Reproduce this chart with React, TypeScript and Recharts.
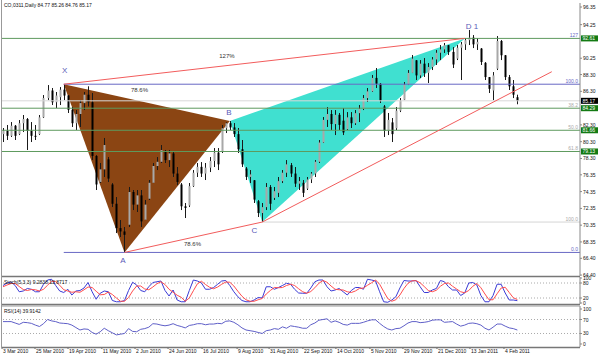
import React from "react";
import {
  Bar,
  ComposedChart,
  Line,
  LineChart,
  ReferenceArea,
  ReferenceDot,
  ReferenceLine,
  XAxis,
  YAxis,
} from "recharts";

const FONT = "'Liberation Sans', Arial, sans-serif";

// Daily OHLC (each entry ~2 sessions), CO 03/11 Brent, Mar 2010 - Feb 2011
const opens = [
  81.2, 81.6, 81.0, 82.2, 81.2, 82.5, 83.0, 81.6, 81.0, 81.2,
  83.2, 85.5, 86.4, 85.0, 85.6, 86.5, 85.8, 84.1, 82.5, 83.6,
  84.9, 85.9, 85.0, 78.6, 75.5, 77.0, 78.2, 75.2, 72.9, 70.0,
  69.6, 70.4, 74.3, 72.8, 73.9, 71.0, 73.5, 75.4, 77.4, 77.9,
  79.2, 78.1, 78.9, 76.5, 75.2, 72.6, 72.7, 75.0, 76.6, 77.3,
  76.5, 77.2, 78.0, 79.0, 79.1, 81.9, 82.5, 82.0, 81.2, 79.4,
  77.1, 76.1, 75.7, 73.2, 71.8, 72.5, 74.9, 73.6, 74.2, 75.6,
  76.6, 77.5, 76.5, 75.3, 75.4, 74.7, 75.8, 76.5, 77.9, 80.2,
  82.9, 83.6, 82.4, 83.5, 82.8, 81.8, 83.2, 82.5, 83.7, 84.2,
  85.5, 86.3, 87.9, 87.2, 84.5, 81.6, 82.6, 81.9, 84.0, 85.3,
  87.1, 88.5, 90.0, 88.2, 89.6, 88.5, 89.2, 90.1, 90.9, 91.3,
  91.8, 91.0, 90.2, 91.5, 91.9, 92.4, 92.7, 91.9, 91.4, 89.7,
  88.0, 86.4, 89.0, 92.3, 90.6, 88.0, 86.9, 85.6,
];
const highs = [
  81.93, 82.29, 82.64, 82.29, 82.88, 83.48, 83.12, 82.64, 82.29, 83.48,
  85.86, 87.05, 86.7, 86.22, 86.81, 87.15, 85.86, 84.43, 84.07, 85.26,
  86.22, 86.9, 86.1, 78.71, 77.76, 80.74, 78.47, 75.37, 73.7, 70.96,
  70.13, 74.9, 74.54, 74.54, 74.54, 73.35, 75.73, 77.76, 78.47, 79.9,
  79.31, 79.31, 79.07, 77.28, 75.37, 72.99, 75.37, 76.92, 77.76, 77.87,
  77.76, 78.47, 79.54, 79.54, 82.29, 82.6, 82.76, 82.52, 81.93, 80.5,
  77.28, 76.92, 75.73, 73.35, 72.99, 75.37, 75.13, 74.9, 76.09, 76.92,
  78.11, 77.76, 77.28, 76.09, 75.73, 76.09, 76.68, 78.11, 80.5, 83.24,
  84.43, 84.07, 84.07, 83.72, 84.31, 83.83, 83.83, 84.07, 84.67, 85.86,
  86.7, 88.25, 89.08, 87.29, 84.67, 83.72, 83.12, 84.43, 85.5, 87.41,
  88.84, 90.63, 90.03, 90.03, 90.27, 89.67, 90.39, 91.23, 91.82, 92.06,
  91.82, 91.58, 91.82, 92.18, 92.65, 93.61, 93.01, 92.65, 91.46, 89.79,
  88.01, 88.6, 92.89, 92.42, 90.63, 88.25, 87.65, 85.9,
];
const lows = [
  80.26, 80.5, 80.86, 80.5, 81.09, 81.45, 79.31, 80.26, 80.5, 81.09,
  83.12, 85.26, 84.67, 84.31, 84.67, 85.26, 83.72, 82.05, 81.69, 82.05,
  84.07, 84.5, 78.11, 74.54, 75.37, 76.09, 75.49, 72.51, 69.41, 68.94,
  67.1, 70.13, 72.15, 71.92, 70.13, 70.96, 73.35, 75.37, 76.92, 77.76,
  77.76, 77.28, 76.09, 75.13, 72.15, 71.2, 72.51, 74.9, 76.09, 76.09,
  75.73, 76.68, 77.28, 76.92, 78.95, 81.33, 81.69, 80.86, 78.95, 77.28,
  75.73, 75.37, 72.99, 71.32, 70.72, 72.15, 72.15, 73.35, 73.7, 75.37,
  76.09, 76.09, 74.9, 74.54, 73.7, 74.54, 75.37, 76.09, 77.76, 80.14,
  82.05, 81.69, 81.09, 81.69, 81.09, 81.69, 81.93, 82.29, 82.64, 84.07,
  85.03, 86.22, 86.7, 84.91, 80.86, 81.09, 80.26, 81.69, 83.83, 85.26,
  87.05, 88.48, 87.65, 87.89, 88.01, 87.29, 88.84, 89.44, 90.03, 90.87,
  90.63, 89.08, 90.03, 87.65, 91.23, 91.82, 91.46, 91.23, 89.44, 87.65,
  86.1, 85.26, 88.84, 90.03, 87.65, 86.46, 85.5, 84.76,
];
const closes = [
  81.6, 81.0, 82.2, 81.0, 82.5, 83.0, 81.6, 81.0, 80.9, 83.2,
  85.5, 86.4, 85.0, 85.8, 86.5, 85.8, 84.1, 82.5, 83.6, 84.9,
  85.9, 85.0, 78.6, 75.2, 77.0, 79.9, 75.9, 72.9, 70.0, 69.6,
  69.2, 74.3, 72.8, 73.9, 70.8, 72.8, 75.4, 77.4, 77.9, 79.3,
  78.1, 78.9, 76.5, 75.5, 72.6, 72.4, 75.0, 76.6, 77.3, 76.5,
  77.2, 78.0, 79.0, 77.6, 81.9, 82.5, 82.0, 81.2, 79.4, 77.6,
  76.1, 76.4, 73.4, 71.8, 72.5, 74.9, 72.9, 74.4, 75.6, 76.6,
  77.6, 76.5, 75.3, 75.6, 74.2, 75.8, 76.5, 77.9, 80.2, 82.9,
  83.6, 82.4, 83.5, 82.3, 81.4, 83.2, 82.5, 83.7, 84.2, 85.5,
  86.3, 87.9, 87.2, 85.2, 81.6, 82.9, 81.2, 84.0, 85.2, 87.1,
  88.5, 90.2, 88.2, 89.6, 88.5, 89.2, 90.1, 90.9, 91.3, 91.8,
  91.0, 89.5, 91.5, 91.9, 92.4, 92.7, 91.9, 92.2, 89.8, 88.0,
  86.6, 88.2, 92.3, 90.6, 88.0, 86.9, 85.9, 85.17,
];

// Stochastic(5,3,3): main and signal
const stochMain = [
  70, 80, 84, 70, 45, 48, 58, 55, 45, 45, 75, 92, 95, 70, 48, 42, 55, 32, 48, 50,
  60, 82, 45, 15, 39, 48, 45, 10, 5, 5, 10, 50, 83, 72, 50, 45, 65, 82, 85, 88,
  50, 28, 52, 12, 5, 5, 50, 92, 88, 80, 55, 55, 62, 75, 88, 90, 70, 45, 25, 10,
  5, 5, 12, 22, 20, 65, 65, 55, 62, 70, 79, 75, 55, 40, 39, 39, 60, 85, 92, 92,
  65, 48, 52, 58, 45, 32, 50, 62, 62, 55, 95, 92, 88, 45, 5, 3, 12, 25, 60, 90,
  88, 88, 90, 65, 42, 42, 52, 58, 90, 85, 65, 52, 52, 30, 40, 80, 82, 72, 30, 5,
  5, 30, 75, 75, 40, 12, 12, 9.28,
];
const stochSignal = [
  65, 72, 78, 78, 66, 54, 50, 54, 53, 48, 55, 71, 87, 86, 71, 53, 48, 43, 45, 43,
  53, 64, 62, 47, 33, 34, 44, 34, 20, 7, 7, 22, 48, 68, 68, 56, 53, 64, 77, 85,
  74, 55, 43, 31, 23, 7, 20, 49, 77, 87, 74, 63, 57, 64, 75, 84, 83, 68, 47, 27,
  13, 7, 7, 13, 18, 36, 50, 62, 61, 62, 70, 75, 70, 57, 45, 39, 46, 61, 79, 90,
  83, 68, 55, 53, 52, 45, 42, 48, 58, 60, 71, 81, 92, 75, 46, 18, 7, 13, 32, 58,
  79, 89, 89, 81, 66, 50, 45, 51, 67, 78, 80, 67, 56, 45, 41, 50, 67, 78, 61, 36,
  13, 13, 37, 60, 63, 42, 21, 13.87,
];
// RSI(14)
const rsi14 = [
  64, 64, 64, 60, 56, 62, 61, 59, 54, 50, 58, 70, 66, 64, 60, 59, 58, 54, 47, 40,
  43, 42, 33, 28, 35, 45, 38, 32, 26, 28, 30, 44, 36, 35, 42, 44, 48, 58, 57, 54,
  52, 54, 58, 53, 50, 46, 53, 55, 58, 58, 55, 57, 57, 59, 58, 65, 66, 62, 55, 46,
  40, 38, 36, 33, 30, 38, 40, 44, 42, 49, 45, 52, 50, 48, 45, 45, 55, 60, 68, 70,
  72, 62, 66, 62, 56, 54, 59, 59, 59, 62, 66, 69, 69, 59, 50, 43, 40, 44, 45, 52,
  60, 64, 64, 61, 62, 64, 68, 69, 69, 62, 63, 64, 57, 51, 54, 59, 60, 58, 54, 45,
  40, 48, 57, 57, 51, 46, 44, 39.91,
];

const priceTicks = [96.35, 94.25, 90.25, 88.3, 86.3, 82.3, 80.3, 78.3, 76.35, 74.35, 72.35, 70.35, 68.35, 66.4, 64.4];
const stochTicks = [0, 20, 80, 100];
const rsiTicks = [0, 30, 70, 100];
const dateTicks = [-0.25, 7.9, 16.05, 24.4, 32.6, 40.75, 49.15, 57.8, 65.7, 74.05, 82.2, 90.6, 98.75, 107.15, 115.3, 123.7];
const dateLabels = [
  "3 Mar 2010", "25 Mar 2010", "19 Apr 2010", "11 May 2010", "2 Jun 2010", "24 Jun 2010",
  "16 Jul 2010", "9 Aug 2010", "31 Aug 2010", "22 Sep 2010", "14 Oct 2010", "5 Nov 2010",
  "29 Nov 2010", "21 Dec 2010", "13 Jan 2011", "4 Feb 2011",
];

// XABCD pivots: bar index and price
const pivotIdx = [15, 30, 56, 64, 114];
const pivotPrice = [87.15, 67.1, 82.76, 70.72, 92.61];
// C-leg trend line extension end
const extIdx = 135.5;
const extPrice = 88.64;

// pattern letters and ratio captions
const markText = ["X", "A", "B", "C", "D 1"];
const markIdx = [15.2, 29.6, 55.8, 62.1, 115.8];
const markPrice = [88.78, 66.19, 83.77, 69.71, 94.08];
const ratioText = ["127%", "78.6%", "78.6%"];
const ratioIdx = [55.3, 33.7, 46.8];
const ratioPrice = [90.51, 86.46, 68.16];

// fibo retracement C->D (green) and last price
const fiboLevels = [84.29, 81.66, 79.13];
const fiboTags = ["38.2", "50.0", "61.8"];
const lastPrice = 85.17;

const X_DOMAIN: [number, number] = [-0.25, 142.47];

const rows = opens.map((o, i) => ({
  i,
  o,
  h: highs[i],
  l: lows[i],
  c: closes[i],
  hl: [lows[i], highs[i]],
  k: stochMain[i],
  d: stochSignal[i],
  rsi: rsi14[i],
}));

function Candle(props: any) {
  const { x, y, width, height, payload } = props;
  if (x == null || y == null) return null;
  const top = Math.min(y, y + height);
  const h = Math.abs(height);
  const cx = Math.round(x + width / 2);
  const span = payload.h - payload.l || 1;
  const bodyTop = top + ((payload.h - Math.max(payload.o, payload.c)) / span) * h;
  const bodyH = Math.max(1, (Math.abs(payload.o - payload.c) / span) * h);
  const up = payload.c >= payload.o;
  return (
    <g>
      <line x1={cx + 0.5} x2={cx + 0.5} y1={top} y2={top + h} stroke="#1a1a1a" strokeWidth={1} />
      <rect x={cx - 0.5} y={bodyTop} width={2} height={bodyH} fill={up ? "#a8a8a8" : "#000"} />
    </g>
  );
}

function triangle(ids: number[], fill: string) {
  const is = ids.map((k) => pivotIdx[k]);
  const ps = ids.map((k) => pivotPrice[k]);
  const iMin = Math.min(...is), iMax = Math.max(...is);
  const pMin = Math.min(...ps), pMax = Math.max(...ps);
  const shape = (props: any) => {
    const { x, y, width, height } = props;
    const pts = is
      .map((v, n) => `${x + ((v - iMin) / (iMax - iMin)) * width},${y + ((pMax - ps[n]) / (pMax - pMin)) * height}`)
      .join(" ");
    return <polygon points={pts} fill={fill} />;
  };
  return { x1: iMin, x2: iMax, y1: pMin, y2: pMax, shape };
}

function levelLabel(tag: string, tagColor: string, box?: string, boxColor?: string) {
  return (props: any) => {
    const vb = props.viewBox || {};
    const right = vb.x + vb.width;
    const y = vb.y;
    return (
      <g fontFamily={FONT}>
        {tag ? (
          <text x={right - 2} y={y - 1.5} textAnchor="end" fontSize={5} fill={tagColor}>
            {tag}
          </text>
        ) : null}
        {box ? (
          <g>
            <rect x={right + 1} y={y - 3} width={17} height={6} fill={boxColor} />
            <text x={right + 2.5} y={y + 2} fontSize={5} fill="#fff">
              {box}
            </text>
          </g>
        ) : null}
      </g>
    );
  };
}

const PriceTick = (props: any) => (
  <text x={props.x} y={props.y + 2} fontSize={5} fill="#111" fontFamily={FONT}>
    {Number(props.payload.value).toFixed(2)}
  </text>
);
const OscTick = (props: any) => (
  <text x={props.x} y={props.y + 2} fontSize={5} fill="#111" fontFamily={FONT}>
    {props.payload.value}
  </text>
);
const DateTick = (props: any) => {
  const n = dateTicks.indexOf(props.payload.value);
  return (
    <text x={props.x + 1} y={props.y + 4} fontSize={5} fill="#111" fontFamily={FONT}>
      {dateLabels[n]}
    </text>
  );
};

const GREEN = "#5e9a5e";
const BLUE = "#6868c4";
const RED = "#f25c5c";

export default function App() {
  const xab = triangle([0, 1, 2], "#8b4513");
  const bcd = triangle([2, 3, 4], "#40e0d0");
  const [X, A, , C, D] = [0, 1, 2, 3, 4];
  const pt = (k: number) => ({ x: pivotIdx[k], y: pivotPrice[k] });

  return (
    <div style={{ position: "absolute", left: 0, top: 0, width: 600, height: 357, background: "#fff", overflow: "hidden" }}>
      <style>{".recharts-surface{overflow:visible}"}</style>
      <div style={{ position: "absolute", left: 0, top: 0 }}>
        <ComposedChart width={600} height={277} data={rows} margin={{ top: 3, right: 0, bottom: 1, left: 2 }}>
          <XAxis type="number" dataKey="i" domain={X_DOMAIN} allowDataOverflow hide />
          <YAxis
            orientation="right"
            type="number"
            domain={[64.29, 96.83]}
            allowDataOverflow
            ticks={priceTicks}
            interval={0}
            width={20}
            tickSize={2}
            tickMargin={1}
            axisLine={{ stroke: "#888" }}
            tickLine={{ stroke: "#888" }}
            tick={PriceTick}
          />
          <ReferenceArea x1={xab.x1} x2={xab.x2} y1={xab.y1} y2={xab.y2} shape={xab.shape} />
          <ReferenceArea x1={bcd.x1} x2={bcd.x2} y1={bcd.y1} y2={bcd.y2} shape={bcd.shape} />

          <ReferenceLine y={pivotPrice[D]} stroke={GREEN} label={levelLabel("127", BLUE, pivotPrice[D].toFixed(2), "#137a13")} />
          <ReferenceLine
            segment={[pt(X), { x: X_DOMAIN[1], y: pivotPrice[X] }]}
            stroke={BLUE}
            label={levelLabel("100.0", BLUE)}
          />
          <ReferenceLine y={lastPrice} stroke="#d8d8d8" label={levelLabel("", "#999", lastPrice.toFixed(2), "#000")} />
          {fiboLevels.map((v, n) => (
            <ReferenceLine key={v} y={v} stroke={GREEN} label={levelLabel(fiboTags[n], "#aaa", v.toFixed(2), "#137a13")} />
          ))}
          <ReferenceLine
            segment={[pt(C), { x: X_DOMAIN[1], y: pivotPrice[C] }]}
            stroke="#d6d6d6"
            label={levelLabel("100.0", "#aaa")}
          />
          <ReferenceLine
            segment={[{ x: pivotIdx[X], y: pivotPrice[A] }, { x: X_DOMAIN[1], y: pivotPrice[A] }]}
            stroke={BLUE}
            label={levelLabel("0.0", BLUE)}
          />

          <Bar dataKey="hl" barSize={2} shape={Candle} isAnimationActive={false} />

          <ReferenceLine segment={[pt(X), pt(D)]} stroke={RED} />
          <ReferenceLine segment={[pt(A), pt(C)]} stroke={RED} />
          <ReferenceLine segment={[pt(C), { x: extIdx, y: extPrice }]} stroke={RED} />

          {markText.map((t, n) => (
            <ReferenceDot
              key={t}
              x={markIdx[n]}
              y={markPrice[n]}
              r={0}
              stroke="none"
              label={{ value: t, position: "center", fill: "#5a5ab8", fontSize: 8, fontFamily: FONT }}
            />
          ))}
          {ratioText.map((t, n) => (
            <ReferenceDot
              key={n}
              x={ratioIdx[n]}
              y={ratioPrice[n]}
              r={0}
              stroke="none"
              label={{ value: t, position: "center", fill: "#333", fontSize: 6, fontFamily: FONT }}
            />
          ))}
        </ComposedChart>
      </div>

      <div style={{ position: "absolute", left: 0, top: 277 }}>
        <LineChart width={600} height={27} data={rows} margin={{ top: 0, right: 0, bottom: 0, left: 2 }}>
          <XAxis type="number" dataKey="i" domain={X_DOMAIN} allowDataOverflow hide />
          <YAxis
            orientation="right"
            type="number"
            domain={[-4, 104]}
            allowDataOverflow
            ticks={stochTicks}
            interval={0}
            width={20}
            tickSize={2}
            tickMargin={1}
            axisLine={{ stroke: "#888" }}
            tickLine={{ stroke: "#888" }}
            tick={OscTick}
          />
          <ReferenceLine y={80} stroke="#aaa" strokeDasharray="1 2" />
          <ReferenceLine y={20} stroke="#aaa" strokeDasharray="1 2" />
          <Line dataKey="k" stroke="#3b3bd6" strokeWidth={1} dot={false} isAnimationActive={false} />
          <Line dataKey="d" stroke="#ff4d4d" strokeWidth={1} dot={false} isAnimationActive={false} />
        </LineChart>
      </div>

      <div style={{ position: "absolute", left: 0, top: 306 }}>
        <LineChart width={600} height={51} data={rows} margin={{ top: 0, right: 0, bottom: 0, left: 2 }}>
          <XAxis
            type="number"
            dataKey="i"
            domain={X_DOMAIN}
            allowDataOverflow
            ticks={dateTicks}
            interval={0}
            height={10}
            tickSize={2}
            tickMargin={0}
            axisLine={false}
            tickLine={{ stroke: "#666" }}
            tick={DateTick}
          />
          <YAxis
            orientation="right"
            type="number"
            domain={[-8.6, 108.6]}
            allowDataOverflow
            ticks={rsiTicks}
            interval={0}
            width={20}
            tickSize={2}
            tickMargin={1}
            axisLine={{ stroke: "#888" }}
            tickLine={{ stroke: "#888" }}
            tick={OscTick}
          />
          <ReferenceLine y={70} stroke="#aaa" strokeDasharray="1 2" />
          <ReferenceLine y={30} stroke="#aaa" strokeDasharray="1 2" />
          <Line dataKey="rsi" stroke="#5f5fc8" strokeWidth={1} dot={false} isAnimationActive={false} />
        </LineChart>
      </div>

      <svg width={600} height={357} style={{ position: "absolute", left: 0, top: 0, pointerEvents: "none" }}>
        <g fontFamily={FONT} fontSize={5} fill="#111">
          <text x={4} y={7}>CO,0311,Daily  84.77 85.26 84.76 85.17</text>
          <text x={4} y={284}>Stoch(5,3,3) 9.2838 13.8717</text>
          <text x={4} y={313}>RSI(14) 39.9142</text>
        </g>
        <line x1={1.5} x2={1.5} y1={0} y2={348} stroke="#999" />
        <line x1={2} x2={580} y1={276.5} y2={276.5} stroke="#777" strokeWidth={1.5} />
        <line x1={2} x2={580} y1={304.5} y2={304.5} stroke="#777" strokeWidth={1.5} />
        <line x1={2} x2={580} y1={306} y2={306} stroke="#999" />
        <line x1={2} x2={580} y1={347.5} y2={347.5} stroke="#777" strokeWidth={1.5} />
      </svg>
    </div>
  );
}
